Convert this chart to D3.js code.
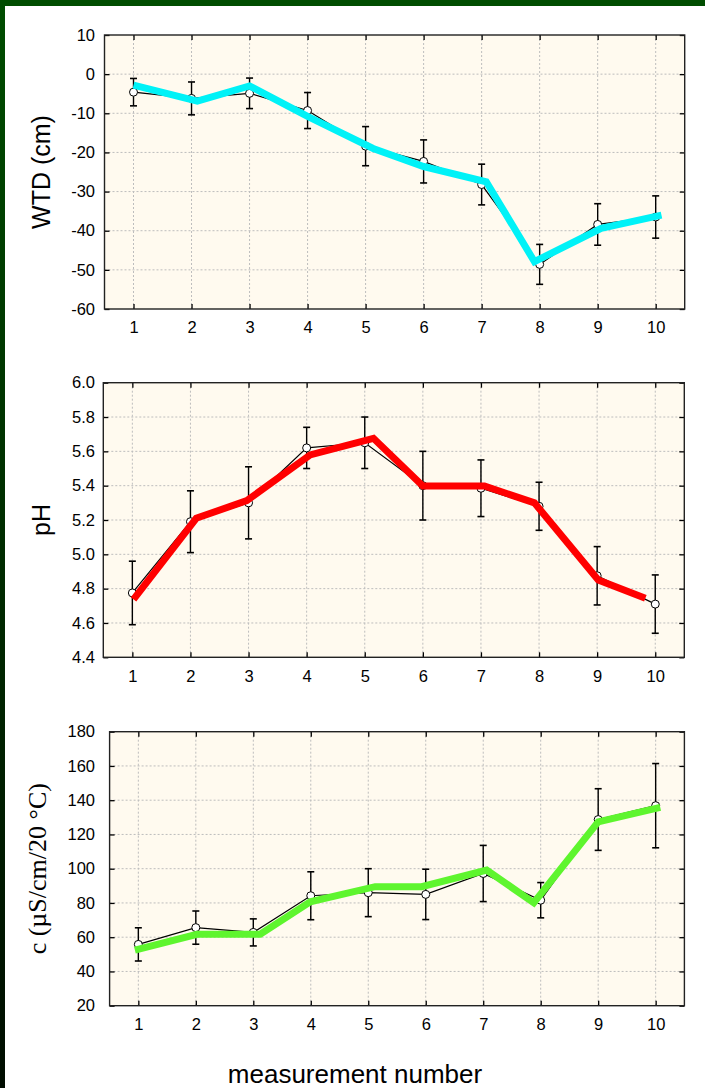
<!DOCTYPE html>
<html><head><meta charset="utf-8">
<script src="https://cdn.jsdelivr.net/npm/d3@7"></script>
<style>body{margin:0;background:#fff}svg{display:block}</style>
</head><body>
<script>
// ---- data ----
const measurement = [1,2,3,4,5,6,7,8,9,10];
const xTicks = [1,2,3,4,5,6,7,8,9,10];

const wtdMean = [-4.6,-6.2,-4.9,-9.3,-18.4,-22.3,-28.2,-48.6,-38.4,-36.5];
const wtdErr  = [3.5,4.2,3.9,4.6,5.0,5.5,5.2,5.1,5.3,5.4];
const wtdTrendX = [1.0,2.1,3.0,4.0,5.13,6.0,7.08,7.91,9.06,10.1];
const wtdTrendY = [-2.8,-6.9,-3.0,-10.8,-19.0,-23.6,-27.5,-47.9,-39.4,-36.0];
const wtdTicks = [10,0,-10,-20,-30,-40,-50,-60];

const phMean = [4.775,5.19,5.30,5.62,5.65,5.40,5.385,5.28,4.875,4.71];
const phErr  = [0.185,0.18,0.21,0.12,0.15,0.20,0.165,0.14,0.17,0.17];
const phTrendX = [1.02,2.10,2.97,4.06,5.15,6.0,7.06,7.92,9.02,9.83];
const phTrendY = [4.738,5.21,5.313,5.579,5.676,5.398,5.398,5.30,4.85,4.744];
const phTicks = [4.4,4.6,4.8,5.0,5.2,5.4,5.6,5.8,6.0];

const cMean = [55.8,65.6,62.8,84.2,86.0,85.0,97.2,81.6,128.7,136.8];
const cErr  = [9.7,9.7,7.9,14.0,14.0,14.7,16.4,10.3,18.0,24.6];
const cTrendX = [0.94,2.02,3.12,3.99,5.12,5.93,7.06,7.88,9.0,10.08];
const cTrendY = [52.5,61.7,61.7,80.7,89.5,89.5,99.2,80.1,127.4,135.8];
const cTicks = [20,40,60,80,100,120,140,160,180];

// ---- layout ----
const W = 705, H = 1088;
const svg = d3.select("body").append("svg").attr("width", W).attr("height", H);

const defs = svg.append("defs");
const lg = defs.append("linearGradient").attr("id","lb").attr("x1",0).attr("y1",0).attr("x2",0).attr("y2",1);
lg.append("stop").attr("offset","0%").attr("stop-color","#004d00");
lg.append("stop").attr("offset","100%").attr("stop-color","#000d00");
svg.append("rect").attr("x",0).attr("y",0).attr("width",W).attr("height",6).attr("fill","#004d00");
svg.append("rect").attr("x",0).attr("y",0).attr("width",5).attr("height",H).attr("fill","url(#lb)");

const hy = f => (d => f(d).replace("\u2212","-"));
const panels = [
  {x0:104.5, x1:684.7, y0:35, y1:309, dom:[-60,10], ticks:wtdTicks, fmt:hy(d3.format("d")),
   mean:wtdMean, err:wtdErr, tx:wtdTrendX, ty:wtdTrendY, color:"#00f2f7",
   label:"WTD (cm)", lx:50, serif:false},
  {x0:103.3, x1:684.3, y0:382.7, y1:657.3, dom:[4.4,6.0], ticks:phTicks, fmt:d3.format(".1f"),
   mean:phMean, err:phErr, tx:phTrendX, ty:phTrendY, color:"#ff0000",
   label:"pH", lx:50, serif:false},
  {x0:109.6, x1:684.4, y0:731.7, y1:1005.7, dom:[20,180], ticks:cTicks, fmt:d3.format("d"),
   mean:cMean, err:cErr, tx:cTrendX, ty:cTrendY, color:"#5ef52e",
   label:"c (\u00b5S/cm/20 \u00b0C)", lx:46, serif:true}
];

const font = "Liberation Sans, Arial, sans-serif";
const TFS = 16.5, LABEL_RIGHT = 95;

panels.forEach(p => {
  const x = d3.scaleLinear().domain([0.5,10.5]).range([p.x0,p.x1]);
  const y = d3.scaleLinear().domain(p.dom).range([p.y1,p.y0]);
  const g = svg.append("g");
  g.append("rect").attr("x",p.x0).attr("y",p.y0).attr("width",p.x1-p.x0).attr("height",p.y1-p.y0)
    .attr("fill","#fffaef");
  // grid
  g.selectAll(".vg").data(xTicks).join("line")
    .attr("x1",d=>x(d)).attr("x2",d=>x(d)).attr("y1",p.y0).attr("y2",p.y1)
    .attr("stroke","#bdbdbd").attr("stroke-width",1).attr("stroke-dasharray","2,2");
  g.selectAll(".hg").data(p.ticks.slice(1,-1)).join("line")
    .attr("x1",p.x0).attr("x2",p.x1).attr("y1",d=>y(d)).attr("y2",d=>y(d))
    .attr("stroke","#bdbdbd").attr("stroke-width",1).attr("stroke-dasharray","2,2");

  // axes with inward ticks
  const ax = (gen, tr) => g.append("g").attr("transform",tr).call(gen)
      .call(s=>s.select(".domain").remove())
      .call(s=>s.selectAll("line").attr("stroke","#000").attr("stroke-width",1.3));
  const bottom = ax(d3.axisBottom(x).tickValues(xTicks).tickSize(-5).tickPadding(12.5).tickFormat(d3.format("d")),
     `translate(0,${p.y1})`);
  bottom.selectAll("text").attr("font-size",TFS).attr("font-family",font).attr("fill","#000");
  ax(d3.axisTop(x).tickValues(xTicks).tickSize(-5).tickFormat(""), `translate(0,${p.y0})`);
  const pad = p.x0 - LABEL_RIGHT;
  const left = ax(d3.axisLeft(y).tickValues(p.ticks).tickSize(-5).tickPadding(pad).tickFormat(p.fmt),
     `translate(${p.x0},0)`);
  left.selectAll("text").attr("font-size",TFS).attr("font-family",font).attr("fill","#000");
  ax(d3.axisRight(y).tickValues(p.ticks).tickSize(-5).tickFormat(""), `translate(${p.x1},0)`);

  // frame
  g.append("rect").attr("x",p.x0).attr("y",p.y0).attr("width",p.x1-p.x0).attr("height",p.y1-p.y0)
    .attr("fill","none").attr("stroke","#222").attr("stroke-width",1.4);

  // mean line
  const pts = measurement.map((m,i)=>[m,p.mean[i],p.err[i]]);
  g.append("path").datum(pts).attr("d", d3.line().x(d=>x(d[0])).y(d=>y(d[1])))
    .attr("fill","none").attr("stroke","#000").attr("stroke-width",1.2);
  // error bars
  const eb = g.selectAll(".eb").data(pts).join("g");
  eb.append("line").attr("x1",d=>x(d[0])).attr("x2",d=>x(d[0]))
    .attr("y1",d=>y(d[1]+d[2])).attr("y2",d=>y(d[1]-d[2])).attr("stroke","#000").attr("stroke-width",1.4);
  eb.append("line").attr("x1",d=>x(d[0])-3.5).attr("x2",d=>x(d[0])+3.5)
    .attr("y1",d=>y(d[1]+d[2])).attr("y2",d=>y(d[1]+d[2])).attr("stroke","#000").attr("stroke-width",1.6);
  eb.append("line").attr("x1",d=>x(d[0])-3.5).attr("x2",d=>x(d[0])+3.5)
    .attr("y1",d=>y(d[1]-d[2])).attr("y2",d=>y(d[1]-d[2])).attr("stroke","#000").attr("stroke-width",1.6);
  g.selectAll(".pt").data(pts).join("circle")
    .attr("cx",d=>x(d[0])).attr("cy",d=>y(d[1])).attr("r",4)
    .attr("fill","#fff").attr("stroke","#000").attr("stroke-width",1);

  // thick trend line
  const tpts = p.tx.map((v,i)=>[v,p.ty[i]]);
  g.append("path").datum(tpts).attr("d", d3.line().x(d=>x(d[0])).y(d=>y(d[1])))
    .attr("fill","none").attr("stroke",p.color).attr("stroke-width",7)
    .attr("stroke-linejoin","miter").attr("stroke-linecap","butt");

  // y label
  const cy = (p.y0+p.y1)/2;
  svg.append("text").attr("transform",`translate(${p.lx},${cy}) rotate(-90)`)
    .attr("text-anchor","middle")
    .attr("font-family", p.serif ? "Liberation Serif, Times New Roman, serif" : font)
    .attr("font-size", p.serif ? 26 : 25).attr("fill","#000").text(p.label);
});

svg.append("text").attr("x",355).attr("y",1083).attr("text-anchor","middle")
  .attr("font-family",font).attr("font-size",26).attr("fill","#000")
  .text("measurement number");
</script>
</body></html>
